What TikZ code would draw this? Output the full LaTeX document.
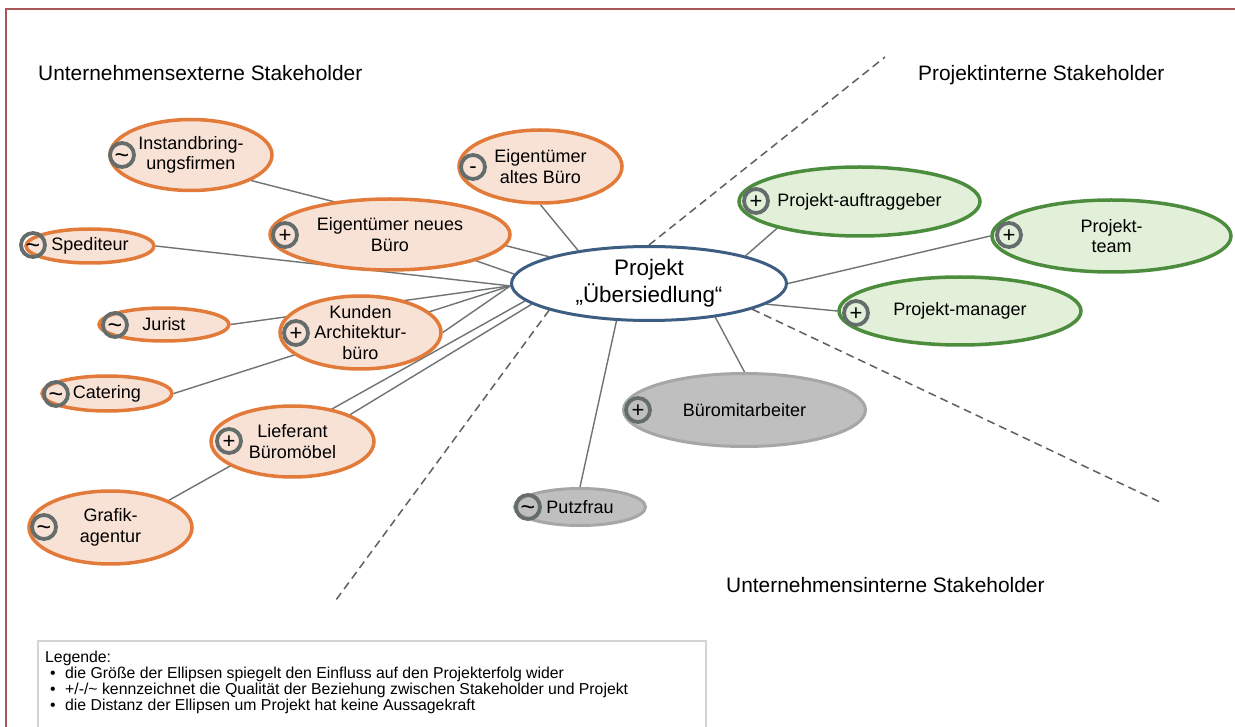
\documentclass[tikz,border=0pt]{standalone}
\usepackage{fontspec}
\setmainfont{Liberation Sans}
\usetikzlibrary{shapes.geometric}
\definecolor{orangeline}{RGB}{226,122,58}
\definecolor{orangefill}{RGB}{248,226,214}
\definecolor{greenline}{RGB}{76,140,61}
\definecolor{greenfill}{RGB}{226,240,217}
\definecolor{grayline}{RGB}{166,166,166}
\definecolor{grayfill}{RGB}{191,191,191}
\definecolor{projblue}{RGB}{62,93,130}
\definecolor{symring}{RGB}{100,108,108}
\definecolor{connc}{RGB}{110,115,115}
\definecolor{divc}{RGB}{96,96,96}
\definecolor{framec}{RGB}{168,88,88}
\definecolor{legendc}{RGB}{212,212,212}
\newcommand\ndfont{\fontsize{18}{20.5}\selectfont}
\newcommand\regfont{\fontsize{20.9}{24}\selectfont}
\newcommand\symfnt{\fontsize{22}{24}\selectfont}
\newcommand\tldfnt{\fontsize{25}{25}\selectfont}
\newcommand\projfnt{\fontsize{22.4}{27}\selectfont}
\newcommand\legfnt{\fontsize{15.8}{16}\selectfont}
\pgfdeclarelayer{bottom}
\pgfdeclarelayer{lines}
\pgfsetlayers{bottom,lines,main}
\tikzset{
  ell/.style={ellipse, inner sep=-12pt, align=center, font=\ndfont},
  ext/.style={ell, draw=orangeline, fill=orangefill, line width=3.5pt},
  pint/.style={ell, draw=greenline, fill=greenfill, line width=3.5pt},
  uint/.style={ell, draw=grayline, fill=grayfill, line width=3pt},
  sym/.style={circle, draw=symring, line width=3.8pt, minimum size=24pt, inner sep=0pt,
              font=\symfnt, text height=15pt, text depth=0pt},
  symt/.style={sym, font=\tldfnt, text height=16.8pt},
  symm/.style={sym, text height=12.5pt},
  conn/.style={draw=connc, line width=1.4pt},
  divider/.style={draw=divc, line width=1.5pt, dash pattern=on 8pt off 5pt},
  region/.style={anchor=base west, font=\regfont, inner sep=0pt},
  legline/.style={anchor=base west, font=\legfnt, inner sep=0pt},
}
\begin{document}
\begin{tikzpicture}[x=1pt,y=-1pt]
\useasboundingbox (0,0) rectangle (1235,727);
\begin{pgfonlayer}{bottom}
\fill[white] (0,0) rectangle (1235,727);
\end{pgfonlayer}
% frame
\draw[framec, line width=2pt] (6,728) -- (6,9) -- (1236,9);
% legend box
\draw[legendc, line width=1.2pt] (38,728) -- (38,641) -- (706,641) -- (706,728);

% central node
\node[ellipse, draw=projblue, fill=white, line width=3pt, inner sep=-12pt, align=center,
      minimum width=275pt, minimum height=74pt, font=\projfnt] (P) at (649,283.5) {Projekt\\„Übersiedlung“};

% external stakeholders
\node[ext, minimum width=162pt, minimum height=71pt] (I) at (191,155) {Instandbring-\\ungsfirmen};
\node[ext, minimum width=240pt, minimum height=71pt] (EN) at (390,234.5) {Eigentümer neues\\Büro};
\node[ext, minimum width=163pt, minimum height=73pt] (EA) at (540.5,166.5) {Eigentümer\\altes Büro};
\node[ext, minimum width=128pt, minimum height=34pt] (S) at (90,246) {Spediteur};
\node[ext, minimum width=130pt, minimum height=33pt] (J) at (164,324.5) {Jurist};
\node[ext, minimum width=130pt, minimum height=35pt] (C) at (107,393.5) {Catering};
\node[ext, minimum width=161pt, minimum height=73pt] (K) at (360.5,332.5) {Kunden\\Architektur-\\büro};
\node[ext, minimum width=163pt, minimum height=71pt] (L) at (292.5,441.5) {Lieferant\\Büromöbel};
\node[ext, minimum width=163pt, minimum height=73pt] (G) at (110.5,527.5) {Grafik-\\agentur};

% project-internal stakeholders
\node[pint, minimum width=241pt, minimum height=69pt] (PA) at (859.5,201.5) {Projekt-auftraggeber};
\node[pint, minimum width=239pt, minimum height=72pt] (PT) at (1111.5,236) {Projekt-\\team};
\node[pint, minimum width=242pt, minimum height=68pt] (PM) at (960,311) {Projekt-manager};

% company-internal stakeholders
\node[uint, minimum width=242pt, minimum height=73pt] (B) at (744.5,410) {Büromitarbeiter};
\node[uint, minimum width=131pt, minimum height=37pt] (Pu) at (580,507) {Putzfrau};

% relation symbols
\node[symt] (sI) at (122,155) {\textasciitilde};
\node[sym] (sEN) at (285,235) {+};
\node[symm] (sEA) at (473,167) {-};
\node[symt] (sS) at (33,245) {\textasciitilde};
\node[symt] (sJ) at (115,325) {\textasciitilde};
\node[symt] (sC) at (56,394) {\textasciitilde};
\node[sym] (sK) at (296,333) {+};
\node[sym] (sL) at (229,441) {+};
\node[symt] (sG) at (44,527) {\textasciitilde};
\node[sym] (sPA) at (756,201) {+};
\node[sym] (sPT) at (1009,235) {+};
\node[sym] (sPM) at (856,313) {+};
\node[sym] (sB) at (638,410) {+};
\node[symt] (sPu) at (528,507) {\textasciitilde};

% connectors and dividers
\coordinate (d1) at (885,57);
\coordinate (d2) at (336,600);
\coordinate (d3) at (1160,502);
\begin{pgfonlayer}{lines}
\draw[conn] (I.-23) -- (P.165);
\draw[conn] (EN.-17) -- (P.176);
\draw[conn] (EA.south) -- (P.155);
\draw[conn] (S.east) -- (P.181);
\draw[conn] (J.east) -- (P.181);
\draw[conn] (C.east) -- (P.181);
\draw[conn] (K.east) -- (P.181);
\draw[conn] (L.25) -- (P.190);
\draw[conn] (G.25) -- (P.188);
\draw[conn] (PA.198) -- (P.16);
\draw[conn] (PT.west) -- (P.0);
\draw[conn] (PM.west) -- (P.-10);
\draw[conn] (B.north) -- (P.-27);
\draw[conn] (Pu.north) -- (P.229);
\draw[divider] (P.north) -- (d1);
\draw[divider] (P.195) -- (d2);
\draw[divider] (P.-14) -- (d3);
\end{pgfonlayer}

% region labels
\node[region] (rext) at (38,81) {Unternehmensexterne Stakeholder};
\node[region] (rpint) at (918,81) {Projektinterne Stakeholder};
\node[region] (ruint) at (726,592) {Unternehmensinterne Stakeholder};

% legend
\node[legline] (lg0) at (45,662) {Legende:};
\node[legline] (lg1) at (45,678) {\hspace*{5pt}\makebox[15pt][l]{•}die Größe der Ellipsen spiegelt den Einfluss auf den Projekterfolg wider};
\node[legline] (lg2) at (45,694) {\hspace*{5pt}\makebox[15pt][l]{•}+/-/\textasciitilde{} kennzeichnet die Qualität der Beziehung zwischen Stakeholder und Projekt};
\node[legline] (lg3) at (45,710) {\hspace*{5pt}\makebox[15pt][l]{•}die Distanz der Ellipsen um Projekt hat keine Aussagekraft};
\end{tikzpicture}
\end{document}
